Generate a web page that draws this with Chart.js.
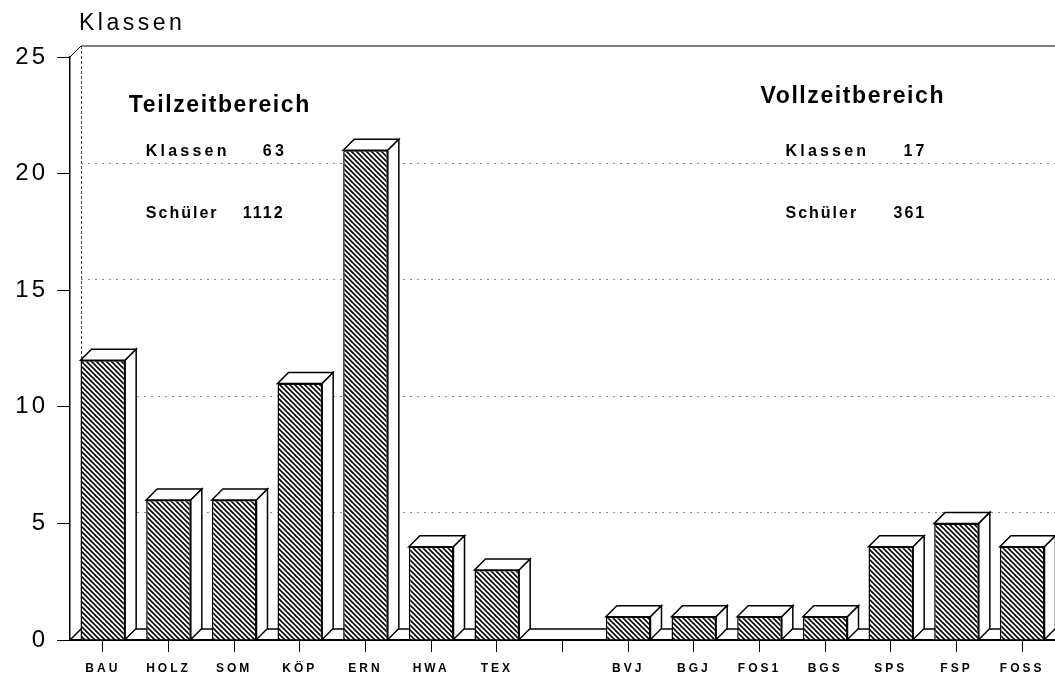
<!DOCTYPE html>
<html>
<head>
<meta charset="utf-8">
<script src="https://cdn.jsdelivr.net/npm/chart.js@4.4.1/dist/chart.umd.min.js"></script>
<style>
  html, body { margin: 0; padding: 0; background: #fff; }
  #wrap { width: 1055px; height: 681px; }
</style>
</head>
<body>
<div id="wrap"><canvas id="chartKlassen"></canvas></div>
<script>
// Daten
const kategorien = ['BAU', 'HOLZ', 'SOM', 'KÖP', 'ERN', 'HWA', 'TEX', '', 'BVJ', 'BGJ', 'FOS1', 'BGS', 'SPS', 'FSP', 'FOSS'];
const klassen = [12, 6, 6, 11, 21, 4, 3, null, 1, 1, 1, 1, 4, 5, 4];
const yTicks = [0, 5, 10, 15, 20, 25];
const bereiche = ['Teilzeitbereich', 'Vollzeitbereich'];
const bereichKlassen = [63, 17];
const bereichSchueler = [1112, 361];

const FONT = "'Liberation Sans', Arial, Helvetica, sans-serif";
const TIEFE = 11;

// Schraffur
function schraffur() {
    const c = document.createElement('canvas');
    c.width = 5; c.height = 5;
    const g = c.getContext('2d');
    g.fillStyle = '#fff';
    g.fillRect(0, 0, 5, 5);
    g.strokeStyle = '#000';
    g.lineWidth = 1.6;
    g.beginPath();
    g.moveTo(-1, -1); g.lineTo(6, 6);
    g.moveTo(-1, 4); g.lineTo(1, 6);
    g.moveTo(4, -1); g.lineTo(6, 1);
    g.stroke();
    return g.createPattern(c, 'repeat');
}

const raum3d = {
    id: 'raum3d',
    beforeDraw(chart) {
        chart.ctx.letterSpacing = '3px';
    },
    beforeDatasetsDraw(chart) {
        const ctx = chart.ctx;
        const a = chart.chartArea;
        const y = chart.scales.y;
        const d = TIEFE;
        ctx.save();
        ctx.letterSpacing = '0px';
        // Rückwand: Gitterlinien
        ctx.strokeStyle = '#8a8a8a';
        ctx.lineWidth = 1;
        ctx.setLineDash([2, 5]);
        yTicks.slice(1, -1).forEach(v => {
            const py = Math.round(y.getPixelForValue(v) - d) + 0.5;
            ctx.beginPath();
            ctx.moveTo(a.left + d, py);
            ctx.lineTo(a.right, py);
            ctx.stroke();
        });
        // linke Rückwandkante
        ctx.strokeStyle = '#444';
        ctx.setLineDash([3, 2]);
        ctx.beginPath();
        ctx.moveTo(a.left + d + 0.5, a.top - d);
        ctx.lineTo(a.left + d + 0.5, a.bottom - d);
        ctx.stroke();
        ctx.setLineDash([]);
        ctx.strokeStyle = '#000';
        // obere Kante
        ctx.beginPath();
        ctx.moveTo(a.left, a.top);
        ctx.lineTo(a.left + d, a.top - d);
        ctx.lineTo(a.right, a.top - d);
        ctx.stroke();
        // Bodenkante hinten
        ctx.lineWidth = 1.5;
        ctx.beginPath();
        ctx.moveTo(a.left, a.bottom);
        ctx.lineTo(a.left + d, a.bottom - d);
        ctx.lineTo(a.right, a.bottom - d);
        ctx.stroke();
        ctx.restore();
    },
    afterDatasetsDraw(chart) {
        const ctx = chart.ctx;
        const d = TIEFE;
        const meta = chart.getDatasetMeta(0);
        ctx.save();
        ctx.strokeStyle = '#000';
        ctx.lineWidth = 1.5;
        ctx.fillStyle = '#fff';
        meta.data.forEach((bar, i) => {
            if (klassen[i] == null) return;
            const p = bar.getProps(['x', 'y', 'base', 'width'], true);
            const l = p.x - p.width / 2, r = p.x + p.width / 2;
            // Deckfläche
            ctx.beginPath();
            ctx.moveTo(l, p.y);
            ctx.lineTo(l + d, p.y - d);
            ctx.lineTo(r + d, p.y - d);
            ctx.lineTo(r, p.y);
            ctx.closePath();
            ctx.fill();
            ctx.stroke();
            // Seitenfläche
            ctx.beginPath();
            ctx.moveTo(r, p.y);
            ctx.lineTo(r + d, p.y - d);
            ctx.lineTo(r + d, p.base - d);
            ctx.lineTo(r, p.base);
            ctx.closePath();
            ctx.fill();
            ctx.stroke();
        });
        ctx.restore();
    },
    afterDraw(chart) {
        const ctx = chart.ctx;
        const y = chart.scales.y;
        const x = chart.scales.x;
        ctx.save();
        ctx.fillStyle = '#000';
        ctx.textBaseline = 'alphabetic';
        // Achsentitel
        ctx.letterSpacing = '3.5px';
        ctx.font = '23px ' + FONT;
        ctx.fillText('Klassen', 79, 30);
        // Bereiche: Anker an BAU und FOS1
        const anker = [x.getPixelForValue(0), x.getPixelForValue(10)];
        const off = [
            { titel: 26, text: 43, kl: 160, sch: 140, ty: 22.64 },
            { titel: 1, text: 26, kl: 144, sch: 134, ty: 23.03 }
        ];
        anker.forEach((ax, k) => {
            const o = off[k];
            ctx.letterSpacing = '1.6px';
            ctx.font = 'bold 23px ' + FONT;
            ctx.fillText(bereiche[k], ax + o.titel, y.getPixelForValue(o.ty));
            ctx.font = 'bold 16px ' + FONT;
            ctx.letterSpacing = '3.2px';
            ctx.fillText('Klassen', ax + o.text, y.getPixelForValue(20.75));
            ctx.fillText(String(bereichKlassen[k]), ax + o.kl, y.getPixelForValue(20.75));
            ctx.letterSpacing = '2px';
            ctx.fillText('Schüler', ax + o.text, y.getPixelForValue(18.1));
            ctx.fillText(String(bereichSchueler[k]), ax + o.sch, y.getPixelForValue(18.1));
        });
        ctx.restore();
        ctx.letterSpacing = '0px';
    }
};

const ctx = document.getElementById('chartKlassen').getContext('2d');

const chartKlassen = new Chart(ctx, {
    type: 'bar',
    data: {
        labels: kategorien,
        datasets: [{
            label: 'Klassen',
            data: klassen,
            backgroundColor: schraffur(),
            borderColor: '#000',
            borderWidth: 1.5,
            barPercentage: 0.68,
            categoryPercentage: 1
        }]
    },
    options: {
        responsive: true,
        maintainAspectRatio: false,
        animation: false,
        devicePixelRatio: 1,
        layout: { padding: { top: 57, left: 0, right: 0, bottom: 0 } },
        plugins: {
            legend: { display: false },
            tooltip: { enabled: false }
        },
        scales: {
            x: {
                offset: true,
                grid: {
                    offset: false,
                    drawOnChartArea: false,
                    drawTicks: true,
                    tickLength: 12,
                    color: '#000'
                },
                border: { display: true, color: '#000', width: 2 },
                ticks: {
                    color: '#000',
                    font: { family: FONT, size: 12, weight: 'bold' },
                    padding: 9,
                    maxRotation: 0,
                    autoSkip: false
                },
                afterFit: s => { s.height = 41; }
            },
            y: {
                min: 0,
                max: 25,
                afterBuildTicks: s => { s.ticks = yTicks.map(v => ({ value: v })); },
                grid: {
                    drawOnChartArea: false,
                    tickLength: 13,
                    color: '#000'
                },
                border: { display: true, color: '#000', width: 1.5 },
                ticks: {
                    color: '#000',
                    font: { family: FONT, size: 24 },
                    padding: 9
                },
                afterFit: s => { s.width = 70; }
            }
        }
    },
    plugins: [raum3d]
});
</script>
</body>
</html>
